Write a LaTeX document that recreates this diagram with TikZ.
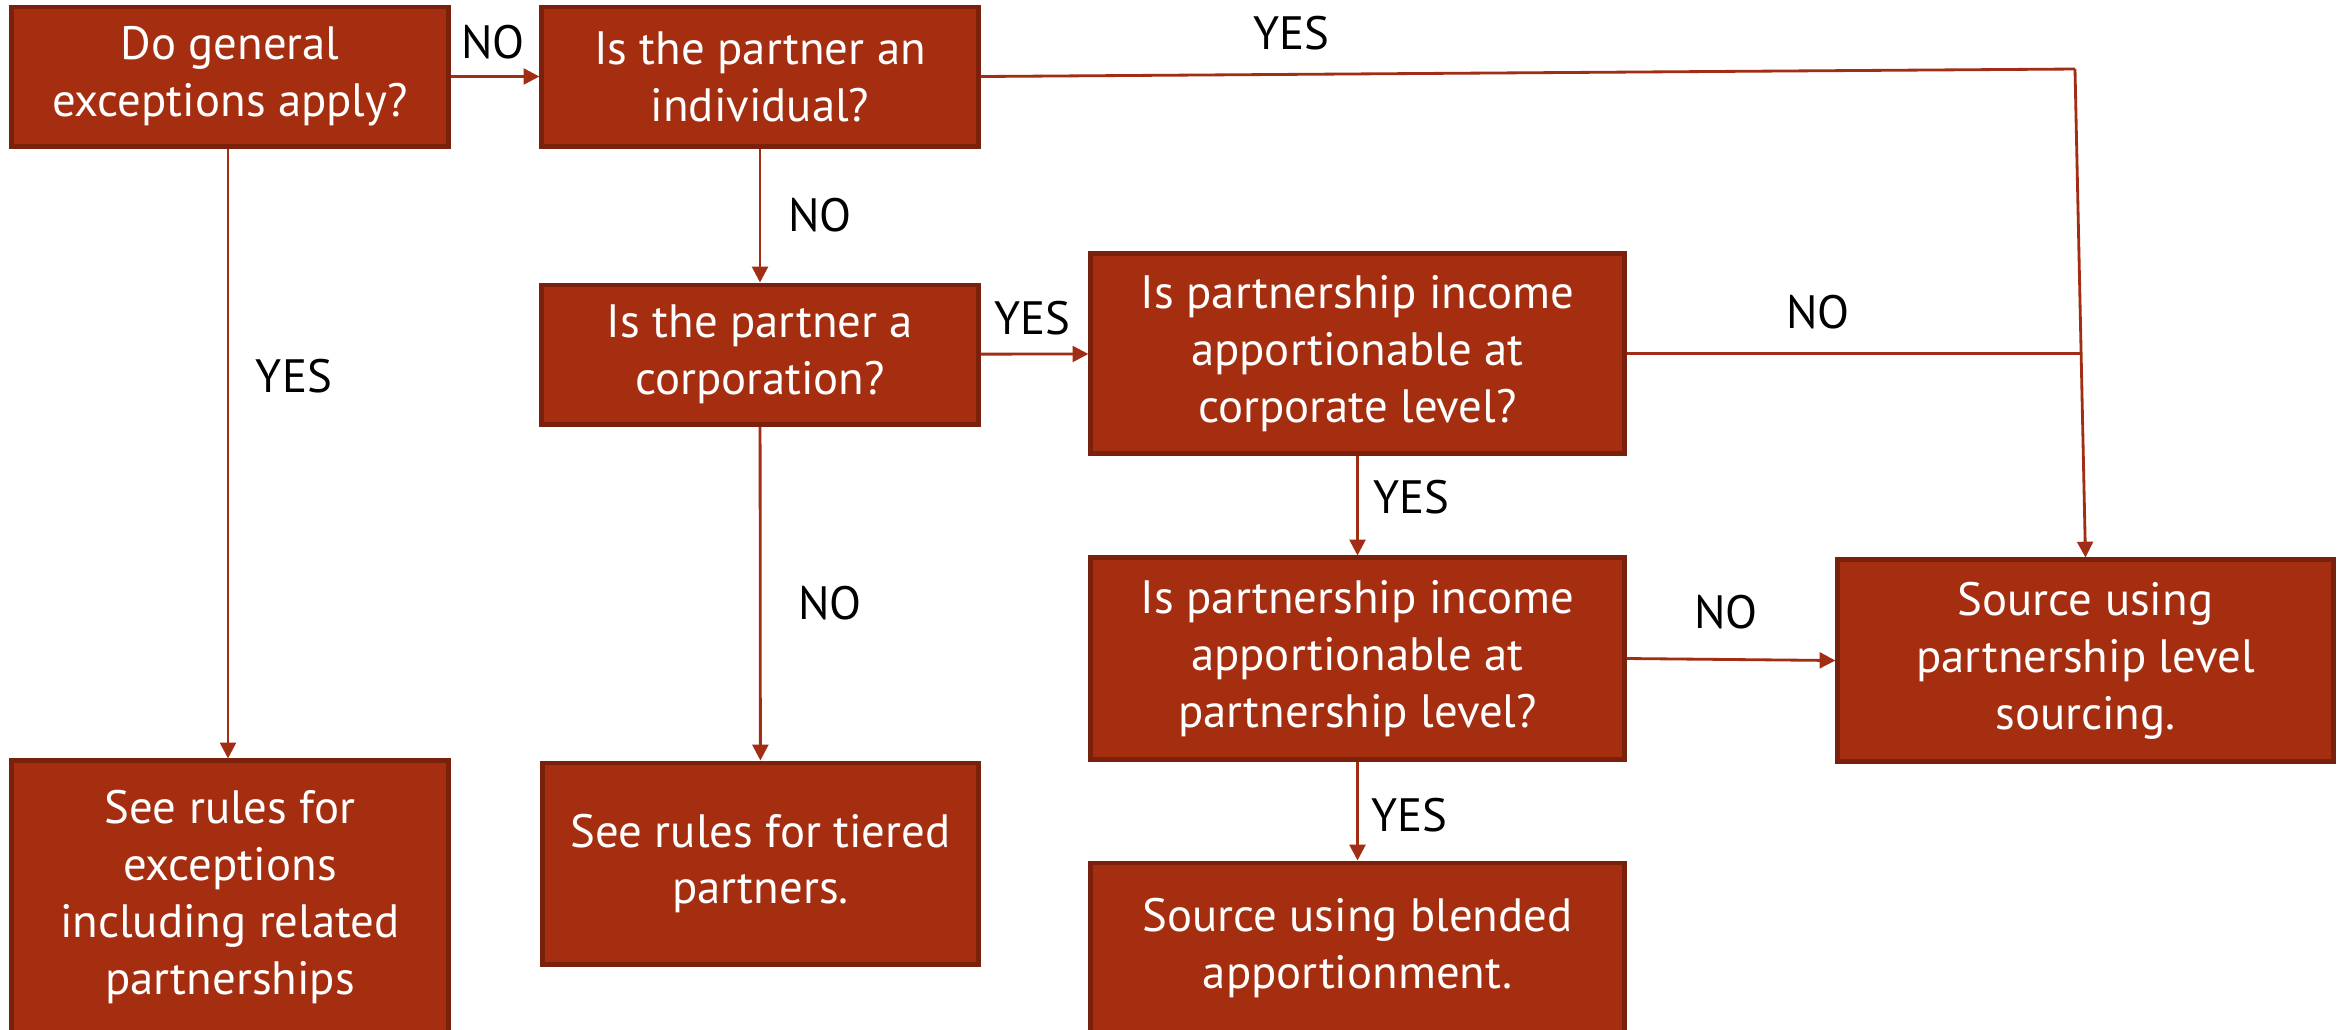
\documentclass[tikz,border=0pt]{standalone}
\usepackage{fontspec}
\setmainfont{PT Sans}
\usetikzlibrary{arrows.meta}
\definecolor{boxfill}{RGB}{165,46,16}
\definecolor{boxline}{RGB}{122,33,13}
\definecolor{linkcol}{RGB}{160,45,20}
\tikzset{
	qbox/.style={draw=boxline, fill=boxfill, line width=1.4pt, text=white, align=center, inner sep=0pt, font=\fontsize{13.3}{16.2}\selectfont},
	link/.style={draw=linkcol, line width=0.8pt, -{Triangle[length=4.5pt,width=4.5pt]}},
	plainlink/.style={draw=linkcol, line width=0.8pt},
	lbl/.style={inner sep=0pt, font=\fontsize{13.3}{16.2}\selectfont}
}
\begin{document}
\begin{tikzpicture}[x=0.01cm, y=-0.01cm]
	\path[use as bounding box, fill=white] (0,0) rectangle (2341,1029);
	% Preguntas
		\node[qbox, minimum width=4.36cm, minimum height=1.39cm] (general) at (230,76.5) {Do general\\exceptions apply?};
		\node[qbox, minimum width=4.36cm, minimum height=1.39cm] (indiv) at (760,76.5) {Is the partner an\\individual?};
		\node[qbox, minimum width=4.36cm, minimum height=1.39cm] (corp) at (760,354.5) {Is the partner a\\corporation?};
		\node[qbox, minimum width=5.33cm, minimum height=1.99cm] (corplevel) at (1357.5,353.5) {Is partnership income\\apportionable at\\corporate level?};
		\node[qbox, minimum width=5.33cm, minimum height=2.01cm] (ptrlevel) at (1357.5,658.5) {Is partnership income\\apportionable at\\partnership level?};
	% Resultados
		\node[qbox, minimum width=4.95cm, minimum height=2.01cm] (srcptr) at (2085.5,660.5) {Source using\\partnership level\\sourcing.};
		\node[qbox, minimum width=4.36cm, minimum height=2.72cm] (except) at (230,897) {See rules for\\exceptions\\including related\\partnerships};
		\node[qbox, minimum width=4.35cm, minimum height=2.01cm] (tiered) at (760.5,863.5) {See rules for tiered\\partners.};
		\node[qbox, minimum width=5.33cm, minimum height=1.70cm] (blended) at (1357.5,948) {Source using blended\\apportionment.};
	% Conectores
		\coordinate (bend) at (2075,69);
		\coordinate (join) at (2081,353.5);
		\draw[link] (general) -- (indiv);
		\draw[plainlink] (indiv.east) -- (bend);
		\draw[link] (bend) -- (srcptr.north);
		\draw[plainlink] (corplevel.east) -- (join);
		\draw[link] (indiv) -- (corp);
		\draw[link] (corp) -- (corplevel);
		\draw[link] (corp) -- (tiered);
		\draw[link] (general.south -| 228,0) -- (except.north -| 228,0);
		\draw[link] (corplevel) -- (ptrlevel);
		\draw[link] (ptrlevel.east) -- (srcptr.west);
		\draw[link] (ptrlevel) -- (blended);
	% Etiquetas
		\node[lbl] (no1) at (493,42) {NO};
		\node[lbl] (yes1) at (1291,33) {YES};
		\node[lbl] (no2) at (820,215) {NO};
		\node[lbl] (yes2) at (1032,318) {YES};
		\node[lbl] (no3) at (1818,312) {NO};
		\node[lbl] (yes3) at (294,376) {YES};
		\node[lbl] (no4) at (830,603) {NO};
		\node[lbl] (yes4) at (1411,497) {YES};
		\node[lbl] (no5) at (1726,612) {NO};
		\node[lbl] (yes5) at (1409,815) {YES};
\end{tikzpicture}
\end{document}
